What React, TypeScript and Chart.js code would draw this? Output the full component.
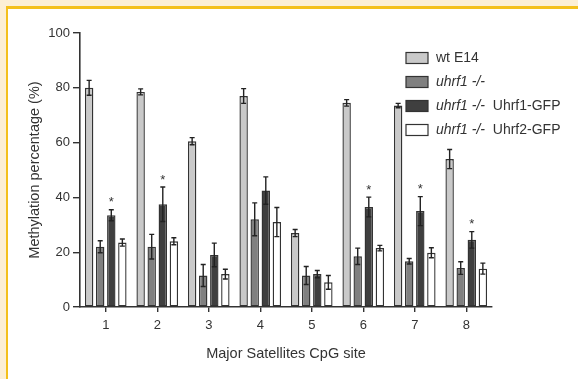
import React, { useEffect, useRef } from "react";
import { Chart, registerables } from "chart.js";

Chart.register(...registerables);

const categories = ["1", "2", "3", "4", "5", "6", "7", "8"];
const seriesNames = ["wt E14", "uhrf1 -/-", "uhrf1 -/- Uhrf1-GFP", "uhrf1 -/- Uhrf2-GFP"];
const wtE14 = [80, 78.5, 60.5, 77, 27, 74.5, 73.5, 54];
const wtE14Err = [2.7, 1.1, 1.3, 2.7, 1.3, 1.2, 0.8, 3.5];
const uhrf1KO = [22, 22, 11.5, 32, 11.5, 18.5, 16.7, 14.2];
const uhrf1KOErr = [2.2, 4.5, 4, 6, 3.3, 3, 1, 2.3];
const uhrf1GFP = [33.5, 37.5, 19, 42.5, 12, 36.5, 35, 24.5];
const uhrf1GFPErr = [2, 6.3, 4.3, 5, 1.3, 3.6, 5.3, 3];
const uhrf2GFP = [23.5, 24, 12, 31, 9, 21.5, 19.8, 14];
const uhrf2GFPErr = [1.3, 1.3, 1.8, 5.3, 2.5, 1, 1.8, 2];
const significant = [true, true, false, false, false, true, true, true];
const yTicks = [0, 20, 40, 60, 80, 100];

const fills = ["#c9c9c9", "#808080", "#3f3f3f", "#ffffff"];
const errors = [wtE14Err, uhrf1KOErr, uhrf1GFPErr, uhrf2GFPErr];
const TEXT = "#333333";
const FONT = "'Liberation Sans', Arial, sans-serif";

const bgPlugin = {
  id: "bgFrame",
  beforeDraw(chart: any) {
    const { ctx, width, height } = chart;
    ctx.save();
    ctx.fillStyle = "#fcefd5";
    ctx.fillRect(0, 0, width, height);
    ctx.fillStyle = "#f4c01c";
    ctx.fillRect(6, 6, width - 6, height - 6);
    ctx.fillStyle = "#ffffff";
    ctx.fillRect(8, 9, width - 8, height - 9);
    ctx.restore();
  },
};

const errPlugin = {
  id: "errBars",
  afterDatasetsDraw(chart: any) {
    const { ctx } = chart;
    const y = chart.scales.y;
    ctx.save();
    ctx.strokeStyle = "#222222";
    ctx.lineWidth = 1.4;
    chart.data.datasets.forEach((ds: any, di: number) => {
      const meta = chart.getDatasetMeta(di);
      meta.data.forEach((bar: any, i: number) => {
        const v = ds.data[i];
        const e = errors[di][i];
        const x = bar.x;
        const yt = y.getPixelForValue(v + e);
        const yb = y.getPixelForValue(v - e);
        ctx.beginPath();
        ctx.moveTo(x, yt);
        ctx.lineTo(x, yb);
        ctx.moveTo(x - 2.5, yt);
        ctx.lineTo(x + 2.5, yt);
        ctx.moveTo(x - 2.5, yb);
        ctx.lineTo(x + 2.5, yb);
        ctx.stroke();
        if (di === 2 && significant[i]) {
          ctx.fillStyle = TEXT;
          ctx.font = `13px ${FONT}`;
          ctx.textAlign = "center";
          ctx.textBaseline = "middle";
          ctx.fillText("*", x, yt - 7);
        }
      });
    });
    ctx.restore();
  },
};

const legendPlugin = {
  id: "customLegend",
  afterDraw(chart: any) {
    const { ctx } = chart;
    ctx.save();
    const bx = 406;
    const rows = [58, 82, 106, 130];
    seriesNames.forEach((name, i) => {
      const cy = rows[i];
      ctx.fillStyle = fills[i];
      ctx.fillRect(bx, cy - 5.5, 22, 11);
      ctx.strokeStyle = "#333333";
      ctx.lineWidth = 1.2;
      ctx.strokeRect(bx, cy - 5.5, 22, 11);
      ctx.fillStyle = TEXT;
      ctx.textBaseline = "middle";
      ctx.textAlign = "left";
      let tx = 436;
      if (i === 0) {
        ctx.font = `14px ${FONT}`;
        ctx.fillText(name, tx, cy);
      } else {
        const italicPart = "uhrf1 -/-";
        ctx.font = `italic 14px ${FONT}`;
        ctx.fillText(italicPart, tx, cy);
        tx += ctx.measureText(italicPart).width;
        const rest = name.slice(italicPart.length);
        if (rest) {
          ctx.font = `14px ${FONT}`;
          ctx.fillText("  " + rest.trim(), tx, cy);
        }
      }
    });
    ctx.restore();
  },
};

export default function App() {
  const ref = useRef<HTMLCanvasElement>(null);
  useEffect(() => {
    const datasets = [wtE14, uhrf1KO, uhrf1GFP, uhrf2GFP].map((d, i) => ({
      label: seriesNames[i],
      data: d,
      backgroundColor: fills[i],
      borderColor: "#333333",
      borderWidth: 1.4,
      borderSkipped: false as any,
      categoryPercentage: 0.86,
      barPercentage: 0.76,
    }));
    const chart = new Chart(ref.current!, {
      type: "bar",
      data: { labels: categories, datasets },
      options: {
        animation: false,
        responsive: false,
        layout: { padding: { top: 33, right: 86, left: 0, bottom: 0 } },
        plugins: { legend: { display: false }, tooltip: { enabled: false } },
        scales: {
          x: {
            grid: { display: true, drawOnChartArea: false, offset: false, tickLength: 5, color: "#333333", lineWidth: 1.4 },
            border: { display: true, color: "#333333", width: 1.6 },
            ticks: { color: TEXT, font: { size: 13, family: FONT }, padding: 6 },
            title: { display: true, text: "Major Satellites CpG site", color: TEXT, font: { size: 14.5, family: FONT }, padding: { top: 0, bottom: 16 } },
            afterFit: (s: any) => { s.height = 72; },
          },
          y: {
            min: 0,
            max: 100,
            afterBuildTicks: (s: any) => { s.ticks = yTicks.map((v) => ({ value: v })); },
            grid: { display: true, drawOnChartArea: false, tickLength: 7, color: "#333333", lineWidth: 1.4 },
            border: { display: true, color: "#333333", width: 1.6 },
            ticks: { color: TEXT, font: { size: 13, family: FONT }, padding: 3 },
            title: { display: true, text: "Methylation percentage (%)", color: TEXT, font: { size: 14.5, family: FONT }, padding: { top: 26, bottom: 0 } },
            afterFit: (s: any) => { s.width = 80; },
          },
        },
      },
      plugins: [bgPlugin, errPlugin, legendPlugin],
    });
    return () => chart.destroy();
  }, []);
  return (
    <div style={{ position: "fixed", left: 0, top: 0, width: 578, height: 379 }}>
      <canvas ref={ref} width={578} height={379} />
    </div>
  );
}
